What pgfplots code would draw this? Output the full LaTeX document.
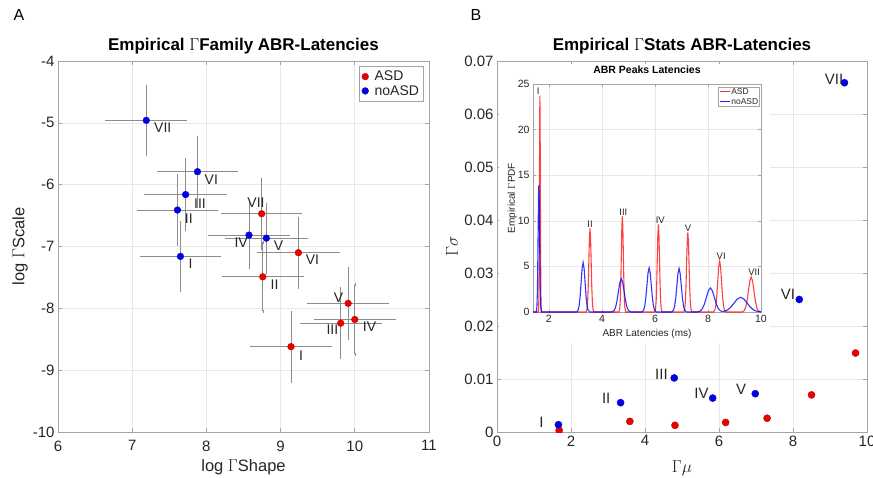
\documentclass[border=0pt]{standalone}
\usepackage{pgfplots}
\pgfplotsset{compat=1.18}
\usepackage{pgfplotstable}
\usepackage{fontspec}
\setmainfont{Liberation Sans}
\definecolor{axgray}{RGB}{165,165,165}
\definecolor{gridgray}{RGB}{232,232,232}
\definecolor{txt}{RGB}{38,38,38}
\definecolor{ebar}{RGB}{140,140,140}
\definecolor{mred}{RGB}{235,0,0}
\definecolor{mblue}{RGB}{0,0,235}
\definecolor{lred}{RGB}{255,40,40}
\definecolor{lblue}{RGB}{30,30,255}
\pgfplotsset{
  myaxis/.style={
    scale only axis,
    axis line style={axgray, line width=0.7pt},
    every tick/.style={axgray, line width=0.6pt},
    major tick length=4pt,
    grid=major,
    major grid style={gridgray, line width=0.6pt},
    tick label style={font=\fontsize{15}{17}\selectfont, text=txt},
    label style={font=\fontsize{16.5}{19}\selectfont, text=txt},
    title style={font=\fontsize{17}{20}\selectfont\bfseries, text=black, at={(axis description cs:0.5,1)}, anchor=base, yshift=4.7pt},
    /pgf/number format/assume math mode=true,
    clip marker paths=true,
  },
}
\tikzset{
  lblA/.style={font=\fontsize{14}{16}\selectfont, text=txt, inner sep=0pt},
  lblB/.style={font=\fontsize{15}{17}\selectfont, text=txt, inner sep=0pt, anchor=east},
  lblC/.style={font=\fontsize{9.5}{11}\selectfont, text=txt, inner sep=0.8pt, anchor=south},
}
\pgfplotstableread{
x y ex ey
8.745 -6.47 0.55 0.56
9.24 -7.10 0.555 0.56
8.76 -7.49 0.55 0.56
9.91 -7.92 0.555 0.56
9.81 -8.24 0.555 0.555
10.00 -8.18 0.55 0.56
9.14 -8.62 0.555 0.56
}\dataASD
\pgfplotstableread{
x y ex ey
7.19 -4.96 0.55 0.555
7.88 -5.79 0.55 0.56
7.72 -6.16 0.555 0.56
7.61 -6.41 0.55 0.56
7.65 -7.16 0.55 0.55
8.574 -6.816 0.55 0.53
8.808 -6.865 0.56 0.55
}\dataNo
\begin{document}
\begin{tikzpicture}
% ---------------- Panel A ----------------
\begin{axis}[myaxis, at={(58pt,45pt)}, anchor=south west, width=371pt, height=371pt,
  xmin=6, xmax=11, ymin=-10, ymax=-4, xtick={6,...,11}, ytick={-10,...,-4},
  xticklabel style={yshift=-5pt},
  title={Empirical $\Gamma$Family ABR-Latencies},
  xlabel={log $\Gamma$Shape}, ylabel={log $\Gamma$Scale},
  xlabel style={at={(axis description cs:0.5,-0.096)}, anchor=center},
  ylabel style={at={(axis description cs:-0.1024,0.5)}, anchor=center},
  legend style={at={(axis description cs:0.986,0.986)}, anchor=north east,
    font=\fontsize{14}{16}\selectfont, text=txt, draw=axgray, line width=0.6pt, inner sep=2.5pt, row sep=-1pt,
    /tikz/every odd column/.append style={column sep=4pt}},
  legend cell align=left]
\addplot[only marks, mark=none, forget plot,
  error bars/.cd, x dir=both, x explicit, error mark=none,
  error bar style={draw=ebar, line width=0.6pt}] table[x=x, y=y, x error=ex] {\dataASD};
\addplot[only marks, mark=none, forget plot,
  error bars/.cd, y dir=both, y explicit,
  error bar style={draw=ebar, line width=0.6pt}, error mark options={draw=ebar, mark size=1.5pt, line width=0.5pt}] table[x=x, y=y, y error=ey] {\dataASD};
\addplot[only marks, mark=none, forget plot,
  error bars/.cd, x dir=both, x explicit, error mark=none,
  error bar style={draw=ebar, line width=0.6pt}] table[x=x, y=y, x error=ex] {\dataNo};
\addplot[only marks, mark=none, forget plot,
  error bars/.cd, y dir=both, y explicit,
  error bar style={draw=ebar, line width=0.6pt}, error mark options={draw=ebar, mark size=1.5pt, line width=0.5pt}] table[x=x, y=y, y error=ey] {\dataNo};
\addplot[only marks, mark=*, mark size=3.4pt, mark options={fill=mred, draw=mred!75!black, line width=0.3pt}] table[x=x, y=y] {\dataASD};
\addlegendentry{ASD}
\addplot[only marks, mark=*, mark size=3.4pt, mark options={fill=mblue, draw=mblue!75!black, line width=0.3pt}] table[x=x, y=y] {\dataNo};
\addlegendentry{noASD}
% labels noASD
\node[lblA, anchor=west, xshift=7.7pt, yshift=-7.3pt] at (axis cs:7.19,-4.96) {VII};
\node[lblA, anchor=west, xshift=7pt, yshift=-7.7pt] at (axis cs:7.88,-5.79) {VI};
\node[lblA, anchor=west, xshift=8.3pt, yshift=-8.7pt] at (axis cs:7.72,-6.16) {III};
\node[lblA, anchor=west, xshift=7.3pt, yshift=-8.3pt] at (axis cs:7.61,-6.41) {II};
\node[lblA, anchor=west, xshift=8pt, yshift=-7pt] at (axis cs:7.65,-7.16) {I};
\node[lblA, anchor=east, xshift=-1pt, yshift=-8pt] at (axis cs:8.574,-6.816) {IV};
\node[lblA, anchor=west, xshift=7.3pt, yshift=-7.7pt] at (axis cs:8.808,-6.865) {V};
% labels ASD
\node[lblA, anchor=center, xshift=-5.7pt, yshift=11.3pt] at (axis cs:8.745,-6.47) {VII};
\node[lblA, anchor=west, xshift=7.3pt, yshift=-7.2pt] at (axis cs:9.24,-7.10) {VI};
\node[lblA, anchor=west, xshift=7.7pt, yshift=-8pt] at (axis cs:8.76,-7.49) {II};
\node[lblA, anchor=east, xshift=-4.7pt, yshift=5.7pt] at (axis cs:9.91,-7.92) {V};
\node[lblA, anchor=east, xshift=-2.3pt, yshift=-6.7pt] at (axis cs:9.81,-8.24) {III};
\node[lblA, anchor=west, xshift=8pt, yshift=-7.7pt] at (axis cs:10.00,-8.18) {IV};
\node[lblA, anchor=west, xshift=8pt, yshift=-9pt] at (axis cs:9.14,-8.62) {I};
\end{axis}
% ---------------- Panel B ----------------
\begin{axis}[myaxis, at={(497pt,45pt)}, anchor=south west, width=370pt, height=371pt,
  xmin=0, xmax=10, ymin=0, ymax=0.07, xtick={0,2,...,10}, ytick={0,0.01,...,0.07},
  scaled y ticks=false,
  yticklabel style={/pgf/number format/fixed, /pgf/number format/precision=2},
  title={Empirical $\Gamma$Stats ABR-Latencies},
  xlabel={$\Gamma\mu$}, ylabel={$\Gamma\sigma$},
  xlabel style={font=\fontsize{19}{21}\selectfont, at={(axis description cs:0.5,-0.099)}, anchor=center},
  ylabel style={font=\fontsize{19}{21}\selectfont, at={(axis description cs:-0.1216,0.5)}, anchor=center}]
\addplot[only marks, mark=*, mark size=3.6pt, mark options={fill=mred, draw=mred!75!black, line width=0.3pt}] coordinates {
(1.68,0.0003) (3.59,0.0020) (4.81,0.00126) (6.18,0.0018) (7.30,0.0026) (8.50,0.0070) (9.69,0.0149)};
\addplot[only marks, mark=*, mark size=3.6pt, mark options={fill=mblue, draw=mblue!75!black, line width=0.3pt}] coordinates {
(1.66,0.00138) (3.34,0.00553) (4.79,0.0102) (5.83,0.0064) (6.98,0.00723) (8.17,0.0250) (9.39,0.0659)};
\node[lblB, xshift=-14.7pt, yshift=2.6pt] at (axis cs:1.66,0.00138) {I};
\node[lblB, xshift=-10pt, yshift=4pt] at (axis cs:3.34,0.00553) {II};
\node[lblB, xshift=-6.3pt, yshift=3.4pt] at (axis cs:4.79,0.0102) {III};
\node[lblB, xshift=-4pt, yshift=4.4pt] at (axis cs:5.83,0.0064) {IV};
\node[lblB, xshift=-9pt, yshift=4.3pt] at (axis cs:6.98,0.00723) {V};
\node[lblB, xshift=-4pt, yshift=4.7pt] at (axis cs:8.17,0.0250) {VI};
\node[lblB, xshift=-1pt, yshift=3.5pt] at (axis cs:9.39,0.0659) {VII};
\end{axis}
% white background of the inset
\fill[white] (499pt,134pt) rectangle (770pt,413pt);
% ---------------- Inset ----------------
\begin{axis}[myaxis, at={(533pt,165pt)}, anchor=south west, width=228pt, height=228pt,
  xmin=1.4, xmax=10, ymin=0, ymax=25, xtick={2,4,...,10}, ytick={0,5,...,25},
  major tick length=2.5pt,
  tick label style={font=\fontsize{10.5}{12}\selectfont},
  label style={font=\fontsize{10}{12}\selectfont},
  title style={font=\fontsize{10.5}{12}\selectfont\bfseries, yshift=-0.4pt},
  title={ABR Peaks Latencies},
  xlabel={ABR Latencies (ms)}, ylabel={Empirical $\Gamma$PDF},
  xlabel style={at={(axis description cs:0.5,-0.0965)}, anchor=center},
  ylabel style={at={(axis description cs:-0.091,0.5)}, anchor=center}]
\addplot[draw=red, line width=1.1pt, opacity=0.75] coordinates {
(1.4,0)
(1.6046,0)(1.618,1.040)(1.6264,3.207)(1.6348,7.695)(1.6432,14.374)(1.6516,20.915)(1.66,23.7)(1.6684,20.915)(1.6768,14.374)(1.6852,7.695)(1.6936,3.207)(1.702,1.040)(1.7154,0)
(3.4061,0)(3.441,0.402)(3.4628,1.239)(3.4846,2.974)(3.5064,5.556)(3.5282,8.084)(3.55,9.16)(3.5718,8.084)(3.5936,5.556)(3.6154,2.974)(3.6372,1.239)(3.659,0.402)(3.6939,0)
(4.6446,0)(4.675,0.461)(4.694,1.421)(4.713,3.409)(4.732,6.368)(4.751,9.266)(4.77,10.5)(4.789,9.266)(4.808,6.368)(4.827,3.409)(4.846,1.421)(4.865,0.461)(4.8954,0)
(5.9927,0)(6.026,0.421)(6.0468,1.299)(6.0676,3.117)(6.0884,5.822)(6.1092,8.472)(6.13,9.6)(6.1508,8.472)(6.1716,5.822)(6.1924,3.117)(6.2132,1.299)(6.234,0.421)(6.2673,0)
(7.0892,0)(7.1257,0.383)(7.1486,1.180)(7.1714,2.831)(7.1943,5.289)(7.2171,7.695)(7.24,8.72)(7.2629,7.695)(7.2857,5.289)(7.3086,2.831)(7.3314,1.180)(7.3543,0.383)(7.3908,0)
(8.2054,0)(8.2622,0.246)(8.2978,0.759)(8.3333,1.822)(8.3689,3.402)(8.4044,4.951)(8.44,5.61)(8.4756,4.951)(8.5111,3.402)(8.5467,1.822)(8.5822,0.759)(8.6178,0.246)(8.6746,0)
(9.2881,0)(9.371,0.169)(9.4228,0.521)(9.4746,1.250)(9.5264,2.335)(9.5782,3.398)(9.63,3.85)(9.6818,3.398)(9.7336,2.335)(9.7854,1.250)(9.8372,0.521)(9.889,0.169)(9.9719,0)
(10,0)};
\addplot[draw=blue, line width=1.1pt, opacity=0.8] coordinates {
(1.4,0)
(1.5253,0)(1.5482,0.610)(1.5626,1.881)(1.5769,4.513)(1.5913,8.430)(1.6056,12.267)(1.62,13.9)(1.6344,12.267)(1.6487,8.430)(1.6631,4.513)(1.6774,1.881)(1.6918,0.610)(1.7147,0)
(3.0474,0)(3.1062,0.238)(3.143,0.735)(3.1797,1.763)(3.2165,3.293)(3.2532,4.792)(3.29,5.43)(3.3268,4.792)(3.3635,3.293)(3.4003,1.763)(3.437,0.735)(3.4738,0.238)(3.5326,0)
(4.3713,0)(4.4582,0.161)(4.5126,0.497)(4.5669,1.192)(4.6213,2.226)(4.6756,3.239)(4.73,3.67)(4.7844,3.239)(4.8387,2.226)(4.8931,1.192)(4.9474,0.497)(5.0018,0.161)(5.0887,0)
(5.5081,0)(5.574,0.212)(5.6152,0.655)(5.6564,1.572)(5.6976,2.935)(5.7388,4.271)(5.78,4.84)(5.8212,4.271)(5.8624,2.935)(5.9036,1.572)(5.9448,0.655)(5.986,0.212)(6.0519,0)
(6.6341,0)(6.701,0.209)(6.7428,0.645)(6.7846,1.549)(6.8264,2.893)(6.8682,4.210)(6.91,4.77)(6.9518,4.210)(6.9936,2.893)(7.0354,1.549)(7.0772,0.645)(7.119,0.209)(7.1859,0)
(7.5917,0)(7.7125,0.116)(7.788,0.357)(7.8635,0.857)(7.939,1.601)(8.0145,2.330)(8.09,2.64)(8.1655,2.330)(8.241,1.601)(8.3165,0.857)(8.392,0.357)(8.4675,0.13)(8.54,0.065)(8.61,0.078)(8.734,0.218)(8.858,0.523)(8.982,0.976)(9.106,1.421)(9.23,1.61)(9.354,1.421)(9.478,0.976)(9.602,0.523)(9.726,0.218)(9.85,0.071)(10.0484,0)};
\node[lblC] at (axis cs:1.60,23.7) {I};
\node[lblC] at (axis cs:3.55,9.16) {II};
\node[lblC] at (axis cs:4.81,10.5) {III};
\node[lblC] at (axis cs:6.20,9.6) {IV};
\node[lblC] at (axis cs:7.25,8.72) {V};
\node[lblC] at (axis cs:8.50,5.61) {VI};
\node[lblC] at (axis cs:9.74,3.85) {VII};
\node[draw=axgray, line width=0.5pt, fill=white, anchor=north east, inner sep=1.5pt,
  font=\fontsize{8.5}{10}\selectfont, text=txt, align=left]
  at (rel axis cs:0.9956,0.988)
  {\textcolor{lred}{\rule[0.28em]{10pt}{1.3pt}}\,ASD\\\textcolor{lblue}{\rule[0.28em]{10pt}{1.3pt}}\,noASD};
\end{axis}
% panel letters
\node[font=\fontsize{16}{18}\selectfont, text=black, anchor=center] at (19pt,462pt) {A};
\node[font=\fontsize{16}{18}\selectfont, text=black, anchor=center] at (476pt,462pt) {B};
\pgfresetboundingbox
\useasboundingbox (0pt,0pt) rectangle (873pt,477pt);
\end{tikzpicture}
\end{document}
